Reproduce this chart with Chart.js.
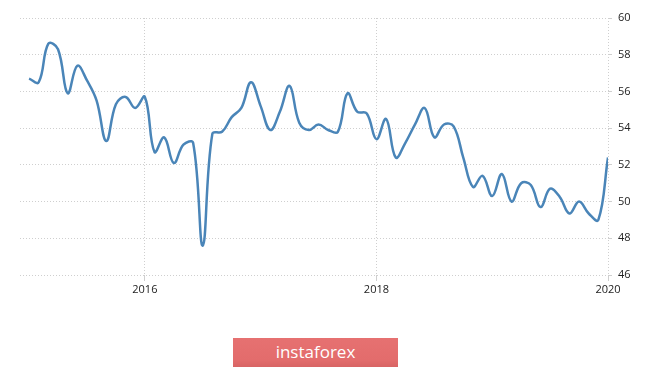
<!DOCTYPE html>
<html>
<head>
<meta charset="utf-8">
<script src="https://cdn.jsdelivr.net/npm/chart.js@4"></script>
<style>
  html, body { margin: 0; padding: 0; background: #fff; }
  #wrap { position: relative; width: 665px; height: 369px; }
  #badge {
    position: absolute; left: 233px; top: 338px; width: 165px; height: 29px;
    background: linear-gradient(#e67171, #e36c6c 75%, #d86464);
    color: #fff; font: 17px "Open Sans", sans-serif; text-align: center; line-height: 28px;
  }
</style>
</head>
<body>
<div id="wrap">
  <canvas id="chart" width="665" height="369"></canvas>
  <div id="badge">instaforex</div>
</div>
<script>
// monthly values, Jan 2015 .. Jan 2020
var months = [];
for (var i = 0; i <= 60; i++) months.push(i);
var values = [
  56.7, 56.5, 58.6, 58.3, 55.9, 57.4, 56.6, 55.5, 53.3, 55.3, 55.7, 55.1,
  55.7, 52.7, 53.5, 52.1, 53.1, 53.2, 47.6, 53.7, 53.8, 54.6, 55.1, 56.5,
  55.2, 53.9, 54.9, 56.3, 54.3, 53.9, 54.2, 53.9, 53.8, 55.9, 54.9, 54.8,
  53.4, 54.5, 52.4, 53.2, 54.2, 55.1, 53.5, 54.2, 54.1, 52.4, 50.8, 51.4,
  50.3, 51.5, 50.0, 51.0, 50.9, 49.7, 50.7, 50.25, 49.35, 50.0, 49.35, 49.0,
  52.4
];
var yearTicks = [12, 36, 60];
var yearLabels = ["2016", "2018", "2020"];

var points = months.map(function (m, i) { return {x: m, y: values[i]}; });

new Chart(document.getElementById("chart").getContext("2d"), {
  type: "line",
  data: {
    datasets: [{
      data: points,
      borderColor: "#4a85b8",
      borderWidth: 2.5,
      pointRadius: 0,
      tension: 0.4,
      fill: false
    }]
  },
  options: {
    responsive: false,
    animation: false,
    layout: { padding: { left: 20, top: 18, right: 0, bottom: 0 } },
    plugins: { legend: { display: false }, tooltip: { enabled: false } },
    scales: {
      x: {
        type: "linear",
        min: -0.94,
        max: 60,
        afterBuildTicks: function (axis) {
          axis.ticks = yearTicks.map(function (v) { return {value: v}; });
        },
        afterFit: function (axis) { axis.height = 94; },
        ticks: {
          autoSkip: false,
          maxRotation: 0,
          color: "#222",
          font: { family: "Open Sans", size: 11 },
          padding: 2
        },
        grid: {
          color: "#cfcfcf",
          tickLength: 6
        },
        border: { display: false }
      },
      y: {
        position: "right",
        min: 46,
        max: 60,
        afterFit: function (axis) { axis.width = 57; },
        ticks: {
          stepSize: 2,
          color: "#222",
          font: { family: "Open Sans", size: 11 },
          padding: 6
        },
        grid: {
          color: "#cfcfcf",
          tickLength: 4
        },
        border: { display: false }
      }
    }
  },
  plugins: [{
    id: "dots",
    beforeDraw: function (chart) {
      // dotted grid lines
      Object.values(chart.scales).forEach(function (s) {
        s.options.border.dash = [1, 2];
        s.options.grid.borderDash = [1, 2];
      });
    }
  }]
});
// year labels
Chart.getChart("chart").options.scales.x.ticks.callback = function (v) {
  return yearLabels[yearTicks.indexOf(v)];
};
Chart.getChart("chart").update();
</script>
</body>
</html>
